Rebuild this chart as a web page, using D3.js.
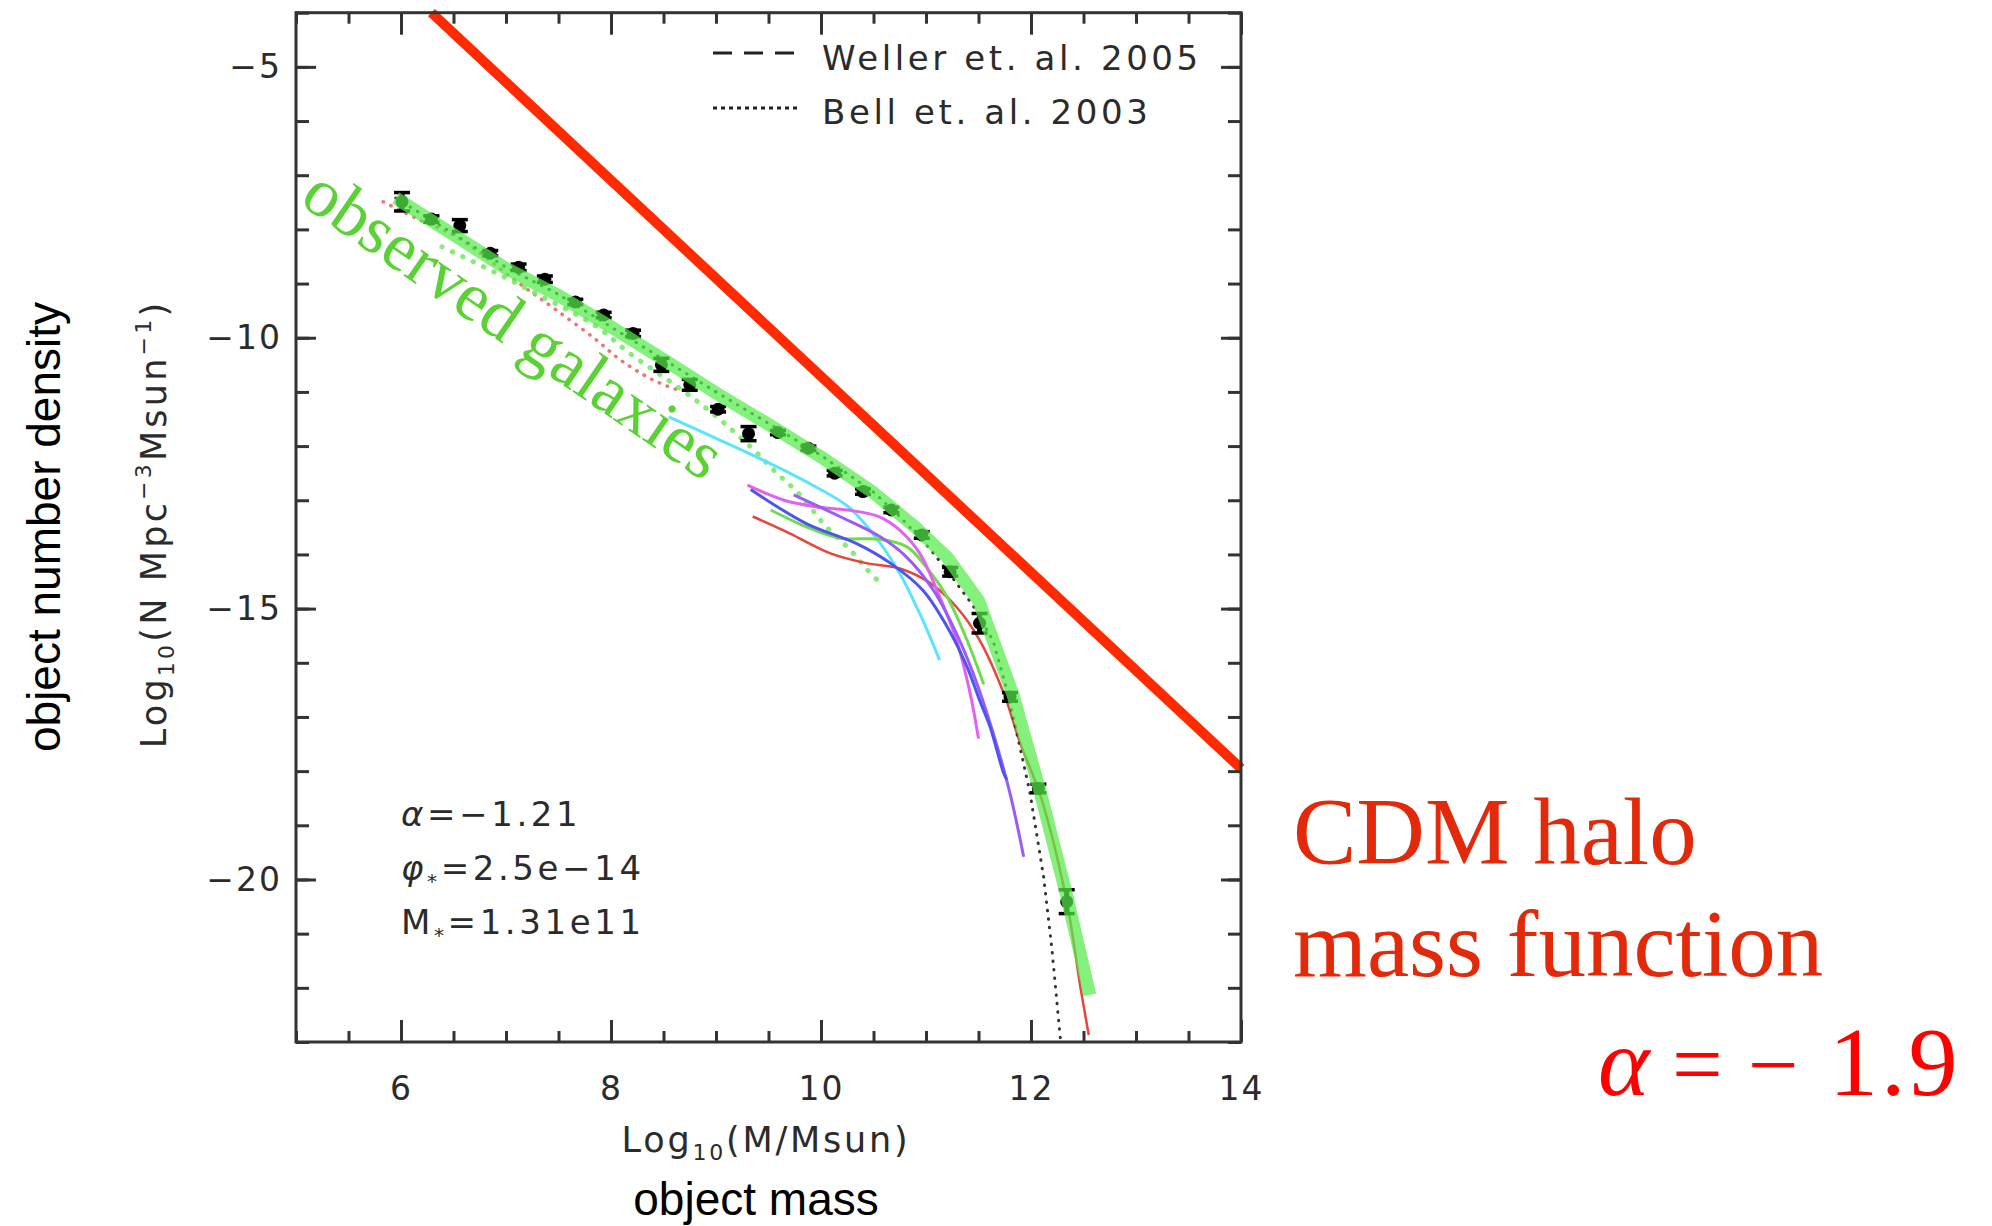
<!DOCTYPE html>
<html>
<head>
<meta charset="utf-8">
<title>Galaxy mass function vs CDM halo mass function</title>
<script src="https://cdn.jsdelivr.net/npm/d3@7"></script>
<style>
  body { margin: 0; background: #fff; }
  svg { display: block; }
  .pg text { font-family: "DejaVu Sans", sans-serif; fill: #2b2b2b; }
  .tick line { stroke: #333; stroke-width: 3; }
</style>
</head>
<body>
<script>
// binned galaxy counts: log10(M/Msun), log10(N), error half-width
var obsX = [6.01, 6.29, 6.56, 6.85, 7.12, 7.37, 7.66, 7.93, 8.21, 8.48, 8.75, 9.02,
            9.31, 9.59, 9.88, 10.13, 10.40, 10.67, 10.96, 11.23, 11.51, 11.80, 12.07, 12.34];
var obsY = [-7.49, -7.81, -7.93, -8.44, -8.70, -8.92, -9.34, -9.58, -9.92, -10.50, -10.87, -11.32,
            -11.77, -11.75, -12.04, -12.50, -12.84, -13.18, -13.64, -14.32, -15.27, -16.63, -18.32, -20.41];
var obsErr = [0.17, 0.06, 0.11, 0.05, 0.06, 0.06, 0.05, 0.05, 0.06, 0.12, 0.10, 0.05,
              0.13, 0.04, 0.04, 0.05, 0.05, 0.05, 0.06, 0.08, 0.18, 0.08, 0.08, 0.22];

// thick green fit
var bandX = [5.95, 6.5, 7.0, 7.5, 8.0, 8.5, 9.0, 9.5, 10.0, 10.5, 10.9, 11.2, 11.5, 11.83, 12.09, 12.34, 12.56];
var bandY = [-7.42, -8.1, -8.72, -9.22, -9.8, -10.4, -11.02, -11.6, -12.2, -12.86, -13.5, -14.05, -14.85, -16.6, -18.4, -20.3, -22.13];

// Bell et al. 2003 (black dotted)
var bellX = [5.95, 6.5, 7.0, 7.5, 8.0, 8.5, 9.0, 9.5, 10.0, 10.5, 10.75, 11.04, 11.26, 11.45, 11.64, 11.77, 11.9, 11.99, 12.12, 12.2, 12.28];
var bellY = [-7.42, -8.08, -8.7, -9.2, -9.8, -10.4, -11.0, -11.58, -12.17, -12.85, -13.3, -13.9, -14.45, -14.95, -15.6, -16.5, -17.6, -18.4, -19.95, -21.3, -22.95];

// coloured dotted curves
var redDotX = [5.83, 6.15, 6.53, 7.17, 7.48, 7.86, 8.09, 8.4, 8.63];
var redDotY = [-7.49, -7.8, -8.14, -9.06, -9.49, -10.04, -10.41, -10.78, -10.96];
var greenDotX = [6.39, 6.85, 7.3, 7.86, 8.18, 8.63, 8.97, 9.36, 9.58, 9.8, 10.05, 10.28, 10.43, 10.58];
var greenDotY = [-8.32, -8.75, -9.2, -9.79, -10.29, -10.9, -11.4, -12.07, -12.5, -12.9, -13.49, -13.92, -14.26, -14.56];

// thin model curves
var cyanX = [8.55, 8.97, 9.45, 9.9, 10.26, 10.52, 10.75, 10.94, 11.13];
var cyanY = [-11.46, -11.83, -12.26, -12.7, -13.12, -13.68, -14.35, -15.09, -15.95];
var magentaX = [9.3, 9.65, 9.95, 10.25, 10.55, 10.75, 10.94, 11.13, 11.29, 11.42, 11.5];
var magentaY = [-12.72, -13.0, -13.12, -13.18, -13.3, -13.55, -13.98, -14.78, -15.58, -16.56, -17.4];
var blueX = [9.33, 9.86, 10.34, 10.66, 10.97, 11.2, 11.39, 11.51, 11.61, 11.74, 11.77];
var blueY = [-12.8, -13.43, -13.8, -14.16, -14.66, -15.33, -16.07, -16.69, -17.18, -18.04, -18.16];
var purpleX = [9.74, 10.18, 10.56, 10.81, 11.07, 11.29, 11.45, 11.64, 11.8, 11.93];
var purpleY = [-12.9, -13.3, -13.67, -14.04, -14.66, -15.46, -16.2, -17.3, -18.41, -19.58];
var greenX = [9.52, 9.86, 10.18, 10.56, 10.82, 11.0, 11.2, 11.39, 11.55];
var greenY = [-13.18, -13.49, -13.7, -13.72, -13.86, -14.23, -14.78, -15.58, -16.4];
var redX = [9.35, 9.7, 10.09, 10.43, 10.75, 11.04, 11.29, 11.51, 11.74, 11.9, 12.09, 12.34, 12.47, 12.55];
var redY = [-13.3, -13.61, -13.98, -14.16, -14.26, -14.53, -14.97, -15.58, -16.56, -17.5, -18.45, -20.4, -21.98, -22.87];

// CDM halo mass function, slope ~ -1.9
var cdmX = [6.29, 14];
var cdmY = [-4, -17.95];

var xMajor = [6, 8, 10, 12, 14];
var xMinor = d3.range(5, 14.01, 0.5);
var yMajor = [-5, -10, -15, -20];
var yMinor = d3.range(-23, -3.99, 1);

var W = 1992, H = 1226;
var svg = d3.select("body").append("svg").attr("width", W).attr("height", H);
svg.append("rect").attr("width", W).attr("height", H).attr("fill", "#fff");

var x = d3.scaleLinear().domain([5, 14]).range([296, 1241]);
var y = d3.scaleLinear().domain([-4, -23]).range([12.7, 1042]);

var plot = svg.append("g").attr("class", "pg");

function zip(xs, ys) { return xs.map(function (v, i) { return [v, ys[i]]; }); }
var line = d3.line().x(function (d) { return x(d[0]); }).y(function (d) { return y(d[1]); });
var curve = d3.line().curve(d3.curveCatmullRom).x(function (d) { return x(d[0]); }).y(function (d) { return y(d[1]); });

function path(g, pts, gen, color, w, dash, op) {
  return g.append("path").datum(pts).attr("d", gen).attr("fill", "none")
    .attr("stroke", color).attr("stroke-width", w)
    .attr("stroke-dasharray", dash || null)
    .attr("stroke-linecap", dash ? "round" : "butt")
    .attr("opacity", op || 1);
}

// dotted curves
path(plot, zip(redDotX, redDotY), curve, "#f05a5a", 3.5, "0.5,8", 0.85);
path(plot, zip(greenDotX, greenDotY), curve, "#7ae86a", 5, "0.5,11", 0.9);

// thin model curves
path(plot, zip(cyanX, cyanY), curve, "#5ae4ff", 3);
path(plot, zip(redX, redY), curve, "#e5453a", 2.5);
path(plot, zip(greenX, greenY), curve, "#6edc4c", 3);
path(plot, zip(magentaX, magentaY), curve, "#e062f0", 3);
path(plot, zip(purpleX, purpleY), curve, "#9a5cf2", 3);
path(plot, zip(blueX, blueY), curve, "#4d55ee", 3);

// Bell et al. dotted
path(plot, zip(bellX, bellY), line, "#333", 3, "0.5,8");

// observed points
var pts = plot.append("g").selectAll("g").data(obsX).join("g");
pts.append("line")
  .attr("x1", function (d) { return x(d); }).attr("x2", function (d) { return x(d); })
  .attr("y1", function (d, i) { return y(obsY[i] + obsErr[i]); })
  .attr("y2", function (d, i) { return y(obsY[i] - obsErr[i]); })
  .attr("stroke", "#000").attr("stroke-width", 5);
[1, -1].forEach(function (s) {
  pts.append("line")
    .attr("x1", function (d) { return x(d) - 8; }).attr("x2", function (d) { return x(d) + 8; })
    .attr("y1", function (d, i) { return y(obsY[i] + s * obsErr[i]); })
    .attr("y2", function (d, i) { return y(obsY[i] + s * obsErr[i]); })
    .attr("stroke", "#000").attr("stroke-width", 3.5);
});
pts.append("circle")
  .attr("cx", function (d) { return x(d); })
  .attr("cy", function (d, i) { return y(obsY[i]); })
  .attr("r", 6.5).attr("fill", "#000");

// thick green fit, over the points
path(plot, zip(bandX, bandY), line, "#56eb4b", 13, null, 0.72).attr("stroke-linejoin", "round");

// CDM line
path(plot, zip(cdmX, cdmY), line, "#ff2a00", 10);

// axes: ticks point inwards on all four sides
function ax(fn, scale, vals, size, pos, pad) {
  var a = fn(scale).tickValues(vals).tickSize(-size);
  if (pad === undefined) a.tickFormat(""); else a.tickPadding(pad);
  var g = plot.append("g").attr("transform", pos).call(a);
  g.select(".domain").remove();
  return g;
}
ax(d3.axisBottom, x, xMinor, 11, "translate(0," + y(-23) + ")");
ax(d3.axisTop, x, xMinor, 11, "translate(0," + y(-4) + ")");
ax(d3.axisTop, x, xMajor, 22, "translate(0," + y(-4) + ")");
ax(d3.axisLeft, y, yMinor, 13, "translate(" + x(5) + ",0)");
ax(d3.axisRight, y, yMinor, 13, "translate(" + x(14) + ",0)");
ax(d3.axisRight, y, yMajor, 20, "translate(" + x(14) + ",0)");
ax(d3.axisBottom, x, xMajor, 22, "translate(0," + y(-23) + ")", 35);
ax(d3.axisLeft, y, yMajor, 20, "translate(" + x(5) + ",0)", 14);
plot.selectAll(".tick text").attr("font-size", 33).attr("font-family", "DejaVu Sans, sans-serif")
  .attr("fill", "#2b2b2b").attr("letter-spacing", 2);

plot.append("rect").attr("x", x(5)).attr("y", y(-4))
  .attr("width", x(14) - x(5)).attr("height", y(-23) - y(-4))
  .attr("fill", "none").attr("stroke", "#333").attr("stroke-width", 3);

// legend
var leg = plot.append("g");
leg.append("line").attr("x1", 713).attr("x2", 797).attr("y1", 53).attr("y2", 53)
  .attr("stroke", "#222").attr("stroke-width", 3).attr("stroke-dasharray", "19,12");
leg.append("line").attr("x1", 713).attr("x2", 797).attr("y1", 108).attr("y2", 108)
  .attr("stroke", "#222").attr("stroke-width", 3).attr("stroke-dasharray", "4,4");
leg.append("text").attr("x", 822).attr("y", 70).attr("font-size", 34).attr("letter-spacing", 3.6)
  .text("Weller et. al. 2005");
leg.append("text").attr("x", 822).attr("y", 124).attr("font-size", 34).attr("letter-spacing", 3.6)
  .text("Bell et. al. 2003");

// fit parameters
var par = plot.append("g").attr("font-size", 34).attr("letter-spacing", 3.6);
var t1 = par.append("text").attr("x", 401).attr("y", 826);
t1.append("tspan").attr("font-style", "italic").text("α");
t1.append("tspan").text("=−1.21");
var t2 = par.append("text").attr("x", 401).attr("y", 880);
t2.append("tspan").attr("font-style", "italic").text("φ");
t2.append("tspan").attr("font-size", 20).attr("dy", 8).text("*");
t2.append("tspan").attr("dy", -8).text("=2.5e−14");
var t3 = par.append("text").attr("x", 401).attr("y", 934);
t3.append("tspan").text("M");
t3.append("tspan").attr("font-size", 20).attr("dy", 8).text("*");
t3.append("tspan").attr("dy", -8).text("=1.31e11");

// axis titles
var xt = plot.append("text").attr("x", 766).attr("y", 1152).attr("text-anchor", "middle")
  .attr("font-size", 35).attr("letter-spacing", 2.8);
xt.append("tspan").text("Log");
xt.append("tspan").attr("font-size", 22).attr("dy", 8).text("10");
xt.append("tspan").attr("dy", -8).text("(M/Msun)");

var yt = plot.append("text").attr("transform", "translate(166,524) rotate(-90)")
  .attr("text-anchor", "middle").attr("font-size", 35).attr("letter-spacing", 3.2);
yt.append("tspan").text("Log");
yt.append("tspan").attr("font-size", 22).attr("dy", 8).text("10");
yt.append("tspan").attr("dy", -8).text("(N Mpc");
yt.append("tspan").attr("font-size", 22).attr("dy", -15).text("−3");
yt.append("tspan").attr("dy", 15).text("Msun");
yt.append("tspan").attr("font-size", 22).attr("dy", -15).text("−1");
yt.append("tspan").attr("dy", 15).text(")");

// slide annotations
svg.append("text").attr("transform", "translate(298,203) rotate(34.5)")
  .attr("font-family", "Liberation Serif, serif").attr("font-size", 69)
  .attr("fill", "#5ad234").text("observed galaxies");

svg.append("text").attr("transform", "translate(60,527) rotate(-90)").attr("text-anchor", "middle")
  .attr("font-family", "Liberation Sans, Arial, sans-serif").attr("font-size", 46)
  .attr("fill", "#000").text("object number density");
svg.append("text").attr("x", 756).attr("y", 1215).attr("text-anchor", "middle")
  .attr("font-family", "Liberation Sans, Arial, sans-serif").attr("font-size", 46)
  .attr("fill", "#000").text("object mass");

var cdm = svg.append("g").attr("font-family", "Liberation Serif, serif").attr("font-size", 95).attr("fill", "#e22a0a");
cdm.append("text").attr("x", 1293).attr("y", 864).text("CDM halo");
cdm.append("text").attr("x", 1293).attr("y", 976).text("mass function");

var al = svg.append("g").attr("font-family", "Liberation Serif, serif").attr("font-size", 90).attr("fill", "#ff0000");
al.append("text").attr("x", 1598).attr("y", 1095).attr("font-style", "italic").attr("font-size", 98).text("α");
al.append("text").attr("x", 1672).attr("y", 1095).text("=");
al.append("text").attr("x", 1748).attr("y", 1095).text("−");
al.append("text").attr("x", 1829).attr("y", 1095).attr("font-size", 98)
  .attr("letter-spacing", 3).text("1.9");
</script>
</body>
</html>
